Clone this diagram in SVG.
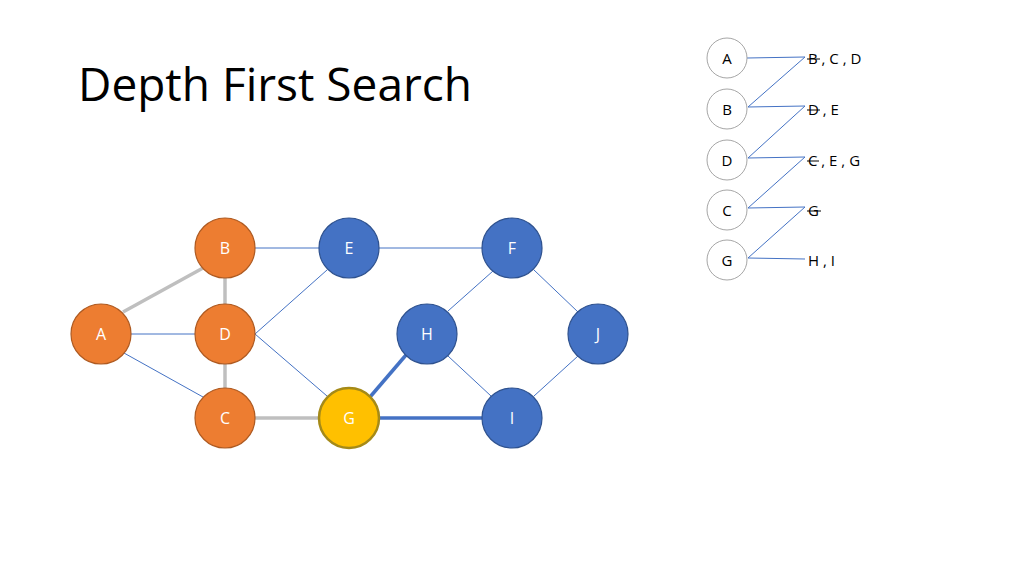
<svg xmlns="http://www.w3.org/2000/svg" width="1024" height="575" viewBox="0 0 1024 575">
<style>
text{font-family:"Open Sans","Liberation Sans",sans-serif}
.n{stroke-width:1.2}
.o{fill:#ED7D31;stroke:#AE5A21}
.b{fill:#4472C4;stroke:#2F528F}
.y{fill:#FFC000;stroke:#A58A18;stroke-width:2.5}
.nl{fill:#fff;font-size:16px;text-anchor:middle;dominant-baseline:central}
.t{stroke:#4472C4;stroke-width:1;fill:none}
.g{stroke:#BFBFBF;stroke-width:3.5}
.k{stroke:#4472C4;stroke-width:3.5}
.w{fill:#fff;stroke:#A6A6A6;stroke-width:1}
.wl{fill:#000;font-size:15px;text-anchor:middle;dominant-baseline:central}
.lt{fill:#000;font-size:15px;dominant-baseline:central}
.s{stroke:#000;stroke-width:1}
</style>
<rect width="1024" height="575" fill="#fff"/>
<text x="78" y="101" font-size="46" fill="#000">Depth First Search</text>
<g id="connectors">
<line class="t" x1="131" y1="334" x2="195" y2="334"/>
<line class="t" x1="124" y1="353" x2="203" y2="397"/>
<line class="t" x1="255" y1="248" x2="319" y2="248"/>
<line class="t" x1="255" y1="334" x2="327" y2="270"/>
<line class="t" x1="255" y1="334" x2="327" y2="396"/>
<line class="t" x1="379" y1="248" x2="482" y2="248"/>
<line class="t" x1="493" y1="271" x2="448" y2="311"/>
<line class="t" x1="534" y1="270" x2="578" y2="312"/>
<line class="t" x1="448" y1="356" x2="491" y2="396"/>
<line class="t" x1="578" y1="356" x2="534" y2="396"/>
<line class="g" x1="123" y1="312" x2="203" y2="268"/>
<line class="g" x1="225" y1="278" x2="225" y2="304"/>
<line class="g" x1="225" y1="364" x2="225" y2="388"/>
<line class="g" x1="255" y1="418" x2="319" y2="418"/>
<line class="k" x1="370" y1="397" x2="406" y2="355"/>
<line class="k" x1="379" y1="418" x2="482" y2="418"/>
<polyline class="t" stroke-width="0.8" points="747,58 805,57 748,107 805,106 748,158 805,157 748,208 805,207 748,258 805,259"/>
</g>
<g id="A"><circle class="n o" cx="101" cy="334" r="30"/><text class="nl" x="101" y="334">A</text></g>
<g id="B"><circle class="n o" cx="225" cy="248" r="30"/><text class="nl" x="225" y="248">B</text></g>
<g id="D"><circle class="n o" cx="225" cy="334" r="30"/><text class="nl" x="225" y="334">D</text></g>
<g id="C"><circle class="n o" cx="225" cy="418" r="30"/><text class="nl" x="225" y="418">C</text></g>
<g id="E"><circle class="n b" cx="349" cy="248" r="30"/><text class="nl" x="349" y="248">E</text></g>
<g id="G"><circle class="y" cx="349" cy="418" r="30"/><text class="nl" x="349" y="418">G</text></g>
<g id="F"><circle class="n b" cx="512" cy="248" r="30"/><text class="nl" x="512" y="248">F</text></g>
<g id="H"><circle class="n b" cx="427" cy="334" r="30"/><text class="nl" x="427" y="334">H</text></g>
<g id="J"><circle class="n b" cx="598" cy="334" r="30"/><text class="nl" x="598" y="334">J</text></g>
<g id="I"><circle class="n b" cx="512" cy="418" r="30"/><text class="nl" x="512" y="418">I</text></g>
<g id="list">
<g id="LA"><circle class="w" cx="727" cy="58" r="20"/><text class="wl" x="727" y="58">A</text></g>
<g id="LB"><circle class="w" cx="727" cy="109" r="20"/><text class="wl" x="727" y="109">B</text></g>
<g id="LD"><circle class="w" cx="727" cy="160" r="20"/><text class="wl" x="727" y="160">D</text></g>
<g id="LC"><circle class="w" cx="727" cy="210" r="20"/><text class="wl" x="727" y="210">C</text></g>
<g id="LG"><circle class="w" cx="727" cy="260" r="20"/><text class="wl" x="727" y="260">G</text></g>
<text class="lt" x="808" y="58" xml:space="preserve">B , C , D</text>
<text class="lt" x="808" y="109" xml:space="preserve">D , E</text>
<text class="lt" x="808" y="160" xml:space="preserve">C , E , G</text>
<text class="lt" x="808" y="210">G</text>
<text class="lt" x="808" y="260" xml:space="preserve">H , I</text>
<line class="s" x1="807" y1="59" x2="820" y2="59"/>
<line class="s" x1="807" y1="110" x2="820" y2="110"/>
<line class="s" x1="807" y1="161" x2="819" y2="161"/>
<line class="s" x1="807" y1="211" x2="821" y2="211"/>
</g>
</svg>
